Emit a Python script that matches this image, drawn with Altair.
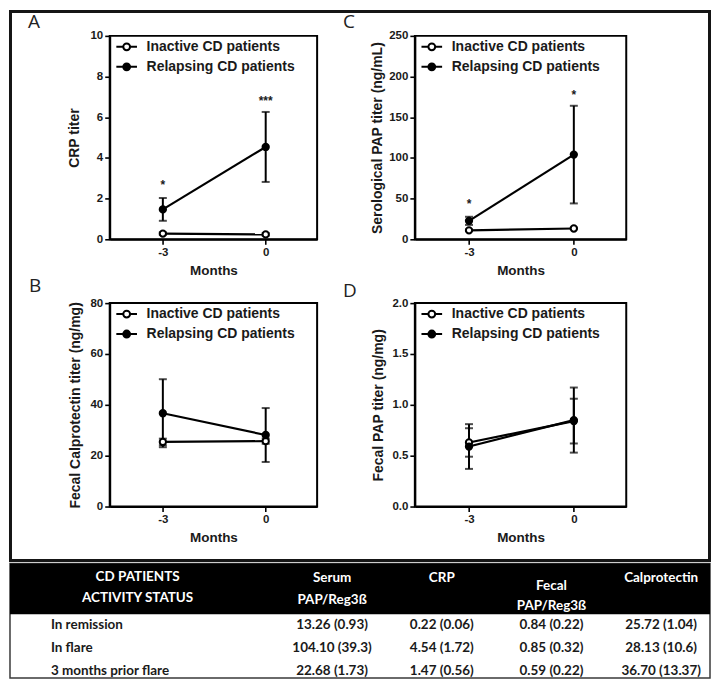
import altair as alt
import pandas as pd

# ---------------- data ----------------
months = [-3, 0]
groups = ["Inactive CD patients", "Relapsing CD patients"]

# Panel A: CRP titer
crp_inactive = [0.28, 0.24]
crp_inactive_err = [0.06, 0.06]
crp_relapse = [1.47, 4.54]
crp_relapse_err = [0.56, 1.72]
crp_ticks = [0, 2, 4, 6, 8, 10]
crp_star_y = [2.7, 6.85]
crp_star_text = ["*", "***"]

# Panel C: serological PAP titer
spap_inactive = [11.0, 13.26]
spap_inactive_err = [1.0, 0.93]
spap_relapse = [22.68, 104.1]
spap_relapse_err = [5.0, 60.0]
spap_ticks = [0, 50, 100, 150, 200, 250]
spap_star_y = [45, 179]
spap_star_text = ["*", "*"]

# Panel B: fecal calprotectin titer
fcal_inactive = [25.4, 25.72]
fcal_inactive_err = [1.3, 1.04]
fcal_relapse = [36.7, 28.13]
fcal_relapse_err = [13.37, 10.6]
fcal_ticks = [0, 20, 40, 60, 80]

# Panel D: fecal PAP titer
fpap_inactive = [0.63, 0.84]
fpap_inactive_err = [0.14, 0.22]
fpap_relapse = [0.59, 0.85]
fpap_relapse_err = [0.22, 0.32]
fpap_ticks = [0.0, 0.5, 1.0, 1.5, 2.0]

# Table
status_header = ["CD PATIENTS", "ACTIVITY STATUS"]
table_rows = ["In remission", "In flare", "3 months prior  flare"]
col_line1 = ["Serum", "CRP", "Fecal", "Calprotectin"]
col_line2 = ["PAP/Reg3ß", "", "PAP/Reg3ß", ""]
serum_pap = ["13.26 (0.93)", "104.10 (39.3)", "22.68 (1.73)"]
crp_vals = ["0.22 (0.06)", "4.54 (1.72)", "1.47 (0.56)"]
fecal_pap = ["0.84 (0.22)", "0.85 (0.32)", "0.59 (0.22)"]
calpro = ["25.72 (1.04)", "28.13 (10.6)", "36.70 (13.37)"]

# ---------------- style ----------------
FONT = "Liberation Sans"
TFONT = "Lato"
INK = "#1a1a1a"
PANEL_H = 204
LEGEND_PATH = ("M-1.15,0H-0.38M0.38,0H1.15"
               "M-0.38,0A0.38,0.38 0 1,0 0.38,0A0.38,0.38 0 1,0 -0.38,0Z")


def legend():
    return alt.Legend(
        title=None, orient="none", legendX=7, legendY=1,
        symbolType=LEGEND_PATH, symbolSize=324,
        symbolStrokeColor="black", symbolStrokeWidth=2,
        labelFont=FONT, labelFontSize=14, labelFontWeight="bold",
        labelColor=INK, labelOffset=10, rowPadding=2, padding=0,
    )


def panel(letter, letter_x, letter_y, inactive, inactive_err, relapse,
          relapse_err, ticks, yfmt, ytitle, title_x, width,
          star_y=None, star_text=None, frame=False):
    df = pd.DataFrame({
        "month": months + months,
        "group": [groups[0]] * 2 + [groups[1]] * 2,
        "mean": inactive + relapse,
        "err": inactive_err + relapse_err,
    })
    df["lo"] = df["mean"] - df["err"]
    df["hi"] = df["mean"] + df["err"]

    xs = alt.Scale(domain=[-4.55, 1.5], nice=False, zero=False)
    xaxis = alt.Axis(values=months, labelExpr="datum.value + ''", title="Months")
    X = alt.X("month:Q", scale=xs, axis=xaxis)
    ys = alt.Scale(domain=[ticks[0], ticks[-1]], nice=False, zero=True)
    yaxis = alt.Axis(values=ticks, format=yfmt, title=ytitle,
                     titleX=title_x, titleBaseline="middle")

    base = alt.Chart(df)
    lines = base.mark_line(color="black", strokeWidth=2.2).encode(
        x=X, y=alt.Y("mean:Q", scale=ys, axis=yaxis), detail="group:N")
    bars = base.mark_errorbar(ticks=True, size=8, thickness=2, color="black").encode(
        x=X, y=alt.Y("lo:Q", scale=ys, axis=yaxis), y2="hi:Q")
    pts = base.mark_point(shape="circle", filled=True, size=40, stroke="black",
                          strokeWidth=2, opacity=1).encode(
        x=X, y=alt.Y("mean:Q", scale=ys, axis=yaxis),
        fill=alt.Fill("group:N", scale=alt.Scale(domain=groups, range=["white", "black"]),
                      legend=legend()))
    layers = [lines, bars, pts]

    if star_y is not None:
        sdf = pd.DataFrame({"month": months, "y": star_y, "t": star_text})
        stars = alt.Chart(sdf).mark_text(font=FONT, fontSize=12, fontWeight="bold",
                                         dy=1, color=INK).encode(
            x=X, y=alt.Y("y:Q", scale=ys, axis=yaxis), text="t:N")
        layers.append(stars)

    lab = alt.Chart(pd.DataFrame({"t": [letter]})).mark_text(
        font="Open Sans", fontSize=19, align="left", baseline="alphabetic", color="#222"
    ).encode(text="t:N", x=alt.value(letter_x), y=alt.value(letter_y))
    layers.append(lab)

    if frame:
        box = alt.Chart(pd.DataFrame({"t": [0]})).mark_rect(
            fill="white", fillOpacity=0, stroke="#151515", strokeWidth=3
        ).encode(x=alt.value(-99.5), x2=alt.value(601.5),
                 y=alt.value(-24.5), y2=alt.value(526))
        layers.append(box)

    return alt.layer(*layers).properties(
        width=width, height=PANEL_H,
        view=alt.ViewBackground(stroke="black", strokeWidth=2))


A = panel("A", -82, -8, crp_inactive, crp_inactive_err, crp_relapse, crp_relapse_err,
          crp_ticks, "d", "CRP titer", -35, 208, crp_star_y, crp_star_text, frame=True)
C = panel("C", -72, -8, spap_inactive, spap_inactive_err, spap_relapse, spap_relapse_err,
          spap_ticks, "d", "Serological PAP titer (ng/mL)", -37, 212, spap_star_y, spap_star_text)
B = panel("B", -81, -11, fcal_inactive, fcal_inactive_err, fcal_relapse, fcal_relapse_err,
          fcal_ticks, "d", "Fecal Calprotectin titer (ng/mg)", -34, 208)
D = panel("D", -72, -6, fpap_inactive, fpap_inactive_err, fpap_relapse, fpap_relapse_err,
          fpap_ticks, ".1f", "Fecal PAP titer (ng/mg)", -36, 212)

# ---------------- table ----------------
# The table sits 64px under the second row; its drawing starts 7px higher.
hdr = pd.DataFrame({"col": col_line1, "l1": col_line1, "l2": col_line2})
vals = pd.DataFrame({
    "col": [c for c in col_line1 for _ in table_rows],
    "row": table_rows * len(col_line1),
    "v": serum_pap + crp_vals + fecal_pap + calpro,
})
TX = alt.X("col:N", scale=alt.Scale(type="point", domain=col_line1, range=[223, 553], padding=0),
           axis=None)
TY = alt.Y("row:N", scale=alt.Scale(type="point", domain=table_rows, range=[55, 101], padding=0),
           axis=None)
dummy = pd.DataFrame({"t": [0]})
tstyle = dict(font=TFONT, fontSize=13.5, fontWeight="bold")

t_border = alt.Chart(dummy).mark_rect(fill="white", fillOpacity=0, stroke="#3a3a3a",
                                      strokeWidth=1.5).encode(
    x=alt.value(-100), x2=alt.value(602), y=alt.value(-7), y2=alt.value(108))
t_head = alt.Chart(dummy).mark_rect(color="black").encode(
    x=alt.value(-100), x2=alt.value(602), y=alt.value(-7), y2=alt.value(44))
t_s1 = alt.Chart(pd.DataFrame({"t": status_header[:1]})).mark_text(
    color="white", **tstyle).encode(text="t:N", x=alt.value(28), y=alt.value(7))
t_s2 = alt.Chart(pd.DataFrame({"t": status_header[1:]})).mark_text(
    color="white", **tstyle).encode(text="t:N", x=alt.value(28), y=alt.value(28))
t_h1 = alt.Chart(hdr).transform_filter("datum.col != 'Fecal'").mark_text(
    color="white", **tstyle).encode(x=TX, y=alt.value(8), text="l1:N")
t_h2 = alt.Chart(hdr).transform_filter("datum.col != 'Fecal'").mark_text(
    color="white", **tstyle).encode(x=TX, y=alt.value(30), text="l2:N")
t_f1 = alt.Chart(hdr).transform_filter("datum.col == 'Fecal'").mark_text(
    color="white", **tstyle).encode(x=TX, y=alt.value(16), text="l1:N")
t_f2 = alt.Chart(hdr).transform_filter("datum.col == 'Fecal'").mark_text(
    color="white", **tstyle).encode(x=TX, y=alt.value(36), text="l2:N")
t_rows = alt.Chart(pd.DataFrame({"row": table_rows})).mark_text(
    align="left", color=INK, **tstyle).encode(x=alt.value(-59), y=TY, text="row:N")
t_vals = alt.Chart(vals).mark_text(color=INK, **tstyle).encode(x=TX, y=TY, text="v:N")

table = alt.layer(t_border, t_head, t_s1, t_s2, t_h1, t_h2, t_f1, t_f2, t_rows, t_vals).properties(
    width=208, height=100, view=alt.ViewBackground(stroke="transparent"))

chart = alt.concat(
    A, C, B, D, table, columns=2, bounds="flush",
    spacing=alt.RowColnumber(row=64, column=98),
).resolve_scale(x="independent", y="independent", fill="independent").properties(
    padding=0, background="white"
).configure_axis(
    labelFont=FONT, labelFontSize=11.5, labelFontWeight="bold", labelColor=INK,
    titleFont=FONT, titleFontSize=14, titleFontWeight="bold", titleColor=INK,
    domainColor="black", domainWidth=2, tickColor="black", tickWidth=1.6, tickSize=5,
    labelPadding=2, grid=False,
).configure_axisX(titleFontSize=13.5, titlePadding=6)

chart.save("out.html", embed_options={"renderer": "svg", "actions": False})
